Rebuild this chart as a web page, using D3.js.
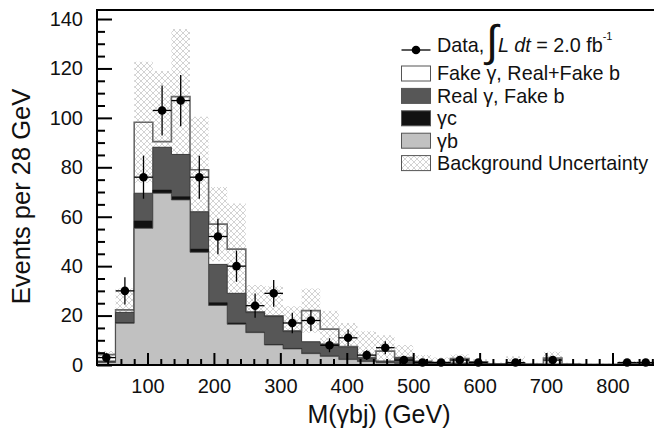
<!DOCTYPE html>
<html><head><meta charset="utf-8">
<script src="https://cdn.jsdelivr.net/npm/d3@7"></script>
<style>
body{margin:0;background:#fff}
svg{display:block}
text{font-family:"Liberation Sans",Arial,Helvetica,sans-serif;fill:#111}
</style>
</head><body>
<svg id="c" width="654" height="441"></svg>
<script>
// ---- data ----
const binWidth = 28;
const binLow = [24,52,80,108,136,164,192,220,248,276,304,332,360,388,416,444,472,500,528,556,584,612,640,668,696,724,752,780,808,836];
const gammaB = [1.0,16.9,55.3,69.5,66.8,45.6,24.1,16.5,13.1,8.1,6.5,4.6,3.5,2.2,1.4,0.9,0.6,0.4,0.3,0.3,0.2,0.1,0.1,0.1,0.1,0.1,0.05,0.05,0.05,0.05];
const gammaC = [0.1,0.2,3.0,1.3,1.3,1.3,1.1,0.5,0.2,0.2,0.2,0.2,0.1,0.1,0.1,0.1,0.05,0,0,0,0,0,0,0,0,0,0,0,0,0];
const realGammaFakeB = [0.5,4.2,11.2,17.3,17.1,15.1,15.5,12.0,7.9,11.3,6.8,4.6,4.9,4.9,1.3,0.6,2.2,0.9,0.6,0.5,0.5,0.3,0.4,0.2,0.3,0.2,0.15,0.15,0.2,0.2];
const fakeGamma = [2.6,1.0,28.7,2.3,23.4,17.0,16.3,17.9,0.3,0.3,0.3,12.6,6.0,0.3,0.2,4.0,0.2,0.2,0.1,1.8,0.6,0.1,0.3,0.1,2.4,0.1,0.1,0.1,0.5,0.5];
const bkgUncertainty = [1.5,8.7,24.5,28.6,27.4,21.5,15,18.5,10.9,12,10,9,7.5,9.5,10.7,6.4,5,2.5,2,1.6,1,0.5,2.7,0.5,2.6,0.5,0.3,0.3,0.8,0.8];
const dataCounts = [3,30,76,103,107,76,52,40,24,29,17,18,8,11,4,7,2,1,1,2,1,0,1,0,2,0,0,0,1,1];
const yTickLabels = [0,20,40,60,80,100,120,140];
const xTickLabels = [100,200,300,400,500,600,700,800];
const legendLabels = ["Fake \u03b3, Real+Fake b","Real \u03b3, Fake b","\u03b3c","\u03b3b","Background Uncertainty"];

// ---- layout ----
const svg = d3.select("#c");
const L = 97, T = 10, R = 655, B = 365;
const xMin = binLow[0], xMax = binLow[binLow.length-1] + binWidth;
const x = d3.scaleLinear().domain([xMin, xMax]).range([L, R]);
const y = d3.scaleLinear().domain([0, 143.65]).range([B, T]);

const defs = svg.append("defs");
const pat = defs.append("pattern").attr("id","hatch").attr("patternUnits","userSpaceOnUse")
  .attr("width",6).attr("height",6);
pat.append("path").attr("d","M0,0L6,6M6,0L0,6M-1,5L1,7M5,-1L7,1").attr("stroke","#c8c8c8").attr("stroke-width",0.8).attr("fill","none");
defs.append("clipPath").attr("id","clip").append("rect").attr("x",L).attr("y",T).attr("width",R-L).attr("height",B-T);

// cumulative stacks
const cum1 = gammaB.map(v=>v);
const cum2 = cum1.map((v,i)=>v+gammaC[i]);
const cum3 = cum2.map((v,i)=>v+realGammaFakeB[i]);
const total = cum3.map((v,i)=>v+fakeGamma[i]);

function stepPts(arr){
  const pts = arr.map((v,i)=>({x:binLow[i], v}));
  pts.push({x:xMax, v:arr[arr.length-1]});
  return pts;
}
const area = d3.area().curve(d3.curveStepAfter).x(d=>x(d.x)).y0(y(0)).y1(d=>y(d.v));

const plot = svg.append("g").attr("clip-path","url(#clip)");

// uncertainty band
const band = total.map((v,i)=>({lo:Math.max(0,v-bkgUncertainty[i]), hi:v+bkgUncertainty[i]}));
const bandPts = band.map((b,i)=>({x:binLow[i], lo:b.lo, hi:b.hi}));
bandPts.push({x:xMax, lo:band[band.length-1].lo, hi:band[band.length-1].hi});
plot.append("path").datum(bandPts)
  .attr("d", d3.area().curve(d3.curveStepAfter).x(d=>x(d.x)).y0(d=>y(d.lo)).y1(d=>y(d.hi)))
  .attr("fill","url(#hatch)");

// stacked histograms
plot.append("path").datum(stepPts(total)).attr("d",area).attr("fill","none").attr("stroke","#6a6a6a").attr("stroke-width",1.6);
plot.append("path").datum(stepPts(cum3)).attr("d",area).attr("fill","#575757").attr("stroke","#3a3a3a").attr("stroke-width",1);
plot.append("path").datum(stepPts(cum2)).attr("d",area).attr("fill","#121212").attr("stroke","#121212").attr("stroke-width",0.5);
plot.append("path").datum(stepPts(cum1)).attr("d",area).attr("fill","#c1c1c1").attr("stroke","#4a4a4a").attr("stroke-width",0.8);

// axes ticks
const yMinor = d3.range(0, 144, 5).filter(v=>v%20!==0);
const xMinor = d3.range(40, 861, 20).filter(v=>v%100!==0);
const tickStyle = g => { g.select(".domain").remove(); g.selectAll("line").attr("stroke","#000").attr("stroke-width",2); };

svg.append("g").attr("transform",`translate(${L},0)`)
  .call(d3.axisRight(y).tickValues(yTickLabels).tickSize(15).tickFormat("")).call(tickStyle);
svg.append("g").attr("transform",`translate(${L},0)`)
  .call(d3.axisRight(y).tickValues(yMinor).tickSize(8).tickFormat("")).call(tickStyle);
const yl = svg.append("g").attr("transform",`translate(${L},0)`)
  .call(d3.axisLeft(y).tickValues(yTickLabels).tickSize(0).tickPadding(14)).call(tickStyle);
yl.selectAll("text").attr("font-size",20).attr("font-family","Liberation Sans, Arial, sans-serif").attr("fill","#111");

svg.append("g").attr("transform",`translate(0,${B})`)
  .call(d3.axisTop(x).tickValues(xTickLabels).tickSize(12).tickFormat("")).call(tickStyle);
svg.append("g").attr("transform",`translate(0,${B})`)
  .call(d3.axisTop(x).tickValues(xMinor).tickSize(6).tickFormat("")).call(tickStyle);
const xl = svg.append("g").attr("transform",`translate(0,${B})`)
  .call(d3.axisBottom(x).tickValues(xTickLabels).tickSize(0).tickPadding(14)).call(tickStyle);
xl.selectAll("text").attr("font-size",20).attr("font-family","Liberation Sans, Arial, sans-serif").attr("fill","#111");

// frame
svg.append("rect").attr("x",L).attr("y",T).attr("width",R-L).attr("height",B-T)
  .attr("fill","none").attr("stroke","#000").attr("stroke-width",2);

// data points
const pts = dataCounts.map((n,i)=>({n, lo:binLow[i], c:binLow[i]+binWidth/2})).filter(d=>d.n>0);
const dg = svg.append("g");
dg.selectAll("line.v").data(pts).join("line")
  .attr("x1",d=>x(d.c)).attr("x2",d=>x(d.c))
  .attr("y1",d=>y(d.n+Math.sqrt(d.n))).attr("y2",d=>y(Math.max(0,d.n-Math.sqrt(d.n))))
  .attr("stroke","#000").attr("stroke-width",1.3);
dg.selectAll("line.h").data(pts).join("line")
  .attr("x1",d=>x(d.lo)).attr("x2",d=>x(d.lo+binWidth))
  .attr("y1",d=>y(d.n)).attr("y2",d=>y(d.n))
  .attr("stroke","#000").attr("stroke-width",1.3);
dg.selectAll("circle").data(pts).join("circle")
  .attr("cx",d=>x(d.c)).attr("cy",d=>y(d.n)).attr("r",4.3).attr("fill","#000");

// axis titles
svg.append("text").attr("transform","translate(30,196.5) rotate(-90)").attr("text-anchor","middle")
  .attr("font-size",25.5).text("Events per 28 GeV");
svg.append("text").attr("x",379).attr("y",423).attr("text-anchor","middle")
  .attr("font-size",25).text("M(\u03b3bj) (GeV)");

// legend
const lg = svg.append("g");
lg.append("line").attr("x1",401.5).attr("x2",430.5).attr("y1",50).attr("y2",50).attr("stroke","#000").attr("stroke-width",1.3);
lg.append("circle").attr("cx",416).attr("cy",50).attr("r",4.3).attr("fill","#000");
lg.append("text").attr("x",437).attr("y",52).attr("font-size",19.8).text("Data,");
lg.append("text").attr("x",486).attr("y",56).attr("font-size",44).attr("font-family","DejaVu Sans").text("\u222b");
const lt = lg.append("text").attr("x",498).attr("y",52).attr("font-size",19.8);
lt.append("tspan").attr("font-style","italic").text("L");
lt.append("tspan").attr("font-style","italic").text(" dt");
lt.append("tspan").text(" = 2.0 fb");
lt.append("tspan").attr("dy",-12).attr("font-size",11).text("-1");

const fills = ["#ffffff","#575757","#121212","#c1c1c1","url(#hatch)"];
legendLabels.forEach((lab,i)=>{
  const top = 66 + i*22.4;
  lg.append("rect").attr("x",401.5).attr("y",top).attr("width",29).attr("height",15)
    .attr("fill",fills[i]).attr("stroke","#555").attr("stroke-width",1);
  lg.append("text").attr("x",437).attr("y",top+7.5).attr("dy","0.35em").attr("font-size",19.8).text(lab);
});
</script>
</body></html>
